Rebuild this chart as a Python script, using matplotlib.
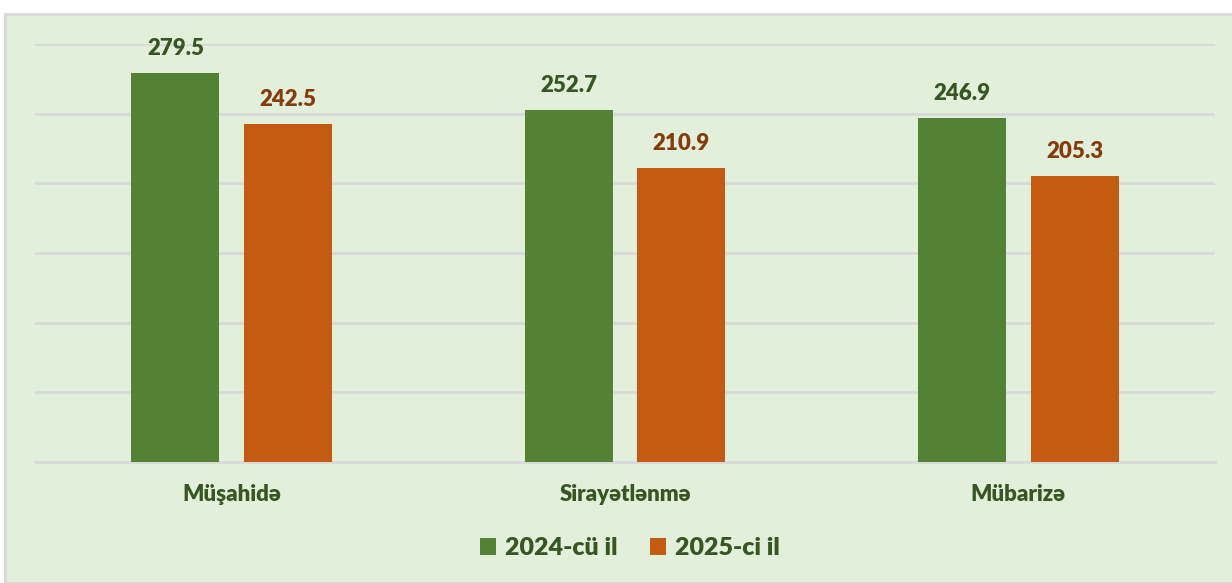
import matplotlib
matplotlib.use("Agg")
import matplotlib.pyplot as plt
import numpy as np
from matplotlib.patches import Rectangle

categories = ["Müşahidə", "Sirayətlənmə", "Mübarizə"]
series_names = ["2024-cü il", "2025-ci il"]
values_2024 = [279.5, 252.7, 246.9]
values_2025 = [242.5, 210.9, 205.3]

bar_colors = ["#548235", "#C55A11"]
text_colors = ["#375623", "#843C0C"]
bg = "#E2EFDA"

plt.rcParams['font.family'] = ['Lato', 'DejaVu Sans']
plt.rcParams['font.weight'] = 'heavy'

fig = plt.figure(figsize=(12.32, 5.83), dpi=100)
fig.patch.set_facecolor("white")
fig.patches.append(Rectangle((5/1232, 0), 1.0, (583-13.5)/583, transform=fig.transFigure,
                             facecolor=bg, edgecolor="#D9D9D9", linewidth=2, zorder=-5))

ax = fig.add_axes([35/1232, (583-462)/583, (1215-35)/1232, (462-44)/583])
ax.set_facecolor("none")

x = np.arange(len(categories))
w = 0.224
off = 0.143
for vals, c, tc, sgn, name in zip([values_2024, values_2025], bar_colors, text_colors, [-1, 1], series_names):
	bars = ax.bar(x + sgn*off, vals, w, color=c, label=name, zorder=3)
	for b, v in zip(bars, vals):
		ax.annotate(f"{v:.1f}", (b.get_x() + b.get_width()/2, v), xytext=(0, 10),
		            textcoords="offset points", ha="center", va="bottom",
		            fontsize=16, fontweight="heavy", color=tc)

ax.set_xlim(-0.5, 2.5)
ax.set_ylim(0, 300)
ax.set_yticks(np.arange(0, 301, 50))
ax.yaxis.grid(True, color="#D9D9D9", linewidth=2, zorder=0)
ax.tick_params(axis="y", left=False, labelleft=False)
ax.tick_params(axis="x", length=0, pad=16)
ax.set_xticks(x)
ax.set_xticklabels(categories, fontsize=16, fontweight="heavy", color="#375623")
for s in ["top", "right", "left"]:
	ax.spines[s].set_visible(False)
ax.spines["bottom"].set_color("#D9D9D9")
ax.spines["bottom"].set_linewidth(2)

leg = fig.legend(loc="center", bbox_to_anchor=(630/1232, (583-548)/583), ncol=2, frameon=False,
                 prop={"size": 18, "weight": "heavy"}, handlelength=0.65, handleheight=0.65,
                 handletextpad=0.35, columnspacing=1.3)
for t in leg.get_texts():
	t.set_color("#375623")

fig.savefig("out.png", dpi=100, facecolor=fig.get_facecolor())
